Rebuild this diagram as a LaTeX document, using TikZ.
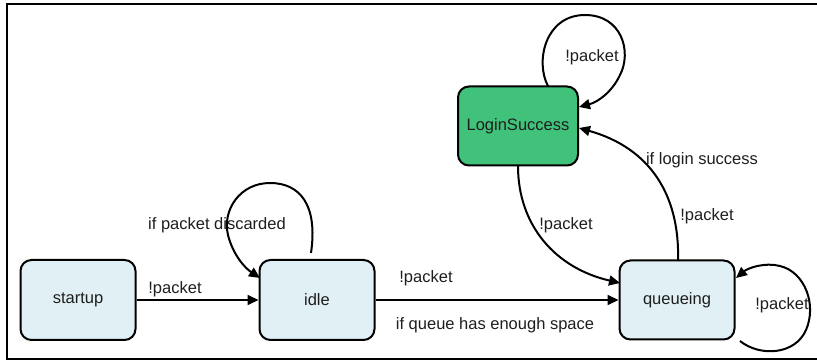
\documentclass[tikz,border=0pt]{standalone}
\usepackage{fontspec}
\setmainfont{Liberation Sans}
\usetikzlibrary{arrows.meta}
\definecolor{stateblue}{RGB}{225,240,245}
\definecolor{stategreen}{RGB}{64,194,122}
\definecolor{labelgray}{RGB}{30,30,30}
\tikzset{
  state/.style={draw=black, line width=2pt, rounded corners=11pt,
    minimum width=115pt, minimum height=80pt, fill=stateblue,
    font=\fontsize{16.5}{20}\selectfont, text=labelgray, inner sep=0pt},
  trans/.style={draw=black, line width=2pt,
    -{Triangle[length=11pt,width=10pt]}},
  lbl/.style={font=\fontsize{16.5}{20}\selectfont, text=labelgray, inner sep=1pt}
}
\begin{document}
\begin{tikzpicture}[x=1pt,y=-1pt]
\useasboundingbox (0,0) rectangle (817,363);
% frame: open on the right
\draw[line width=2pt] (817,4) -- (7,4) -- (7,359) -- (817,359);

% states
\node[state] (startup) at (78,300) {startup};
\node[state] (idle) at (317,300) {idle};
\node[state, minimum height=79pt] (queueing) at (677,300) {queueing};
\node[state, fill=stategreen, minimum width=120pt, minimum height=79pt] (login) at (518,126) {LoginSuccess};

% straight transitions
\draw[trans] (startup.east) -- (idle.west);
\node[lbl] (l1) at (175,289) {!packet};
\draw[trans] (idle.east) -- (queueing.west);
\node[lbl] (l2) at (426,278) {!packet};
\node[lbl] (l3) at (495,325) {if queue has enough space};

% idle self loop
\coordinate (idleA) at (311,253);
\coordinate (idleB) at (260,278);
\draw[trans] (idleA) .. controls (318,205) and (300,183) .. (270,183)
  .. controls (240,183) and (222,210) .. (228,235)
  .. controls (233,255) and (245,268) .. (idleB);
\node[lbl] (l4) at (217,225) {if packet discarded};

% LoginSuccess -> queueing
\coordinate (lsBot) at (518,166);
\coordinate (qIn) at (620,283);
\draw[trans] (lsBot) .. controls (518,225) and (555,268) .. (qIn);
\node[lbl] (l5) at (566,225) {!packet};

% queueing -> LoginSuccess
\coordinate (qTop) at (678,261);
\coordinate (lsIn) at (579,128);
\draw[trans] (qTop) .. controls (680,195) and (650,148) .. (lsIn);
\node[lbl] (l6) at (702,160) {if login success};
\node[lbl] (l7) at (707,216) {!packet};

% LoginSuccess self loop
\coordinate (lsA) at (548,86);
\coordinate (lsB) at (579,107);
\draw[trans] (lsA) .. controls (535,62) and (545,15) .. (585,15)
  .. controls (622,15) and (632,52) .. (620,75)
  .. controls (612,92) and (598,102) .. (lsB);
\node[lbl] (l8) at (592,57) {!packet};

% queueing self loop
\coordinate (qA) at (740,341);
\coordinate (qB) at (736,278);
\draw[trans] (qA) .. controls (760,357) and (795,355) .. (806,330)
  .. controls (817,305) and (805,272) .. (780,266)
  .. controls (765,262) and (748,268) .. (qB);
\node[lbl] (l9) at (782,305) {!packet};
\end{tikzpicture}
\end{document}
